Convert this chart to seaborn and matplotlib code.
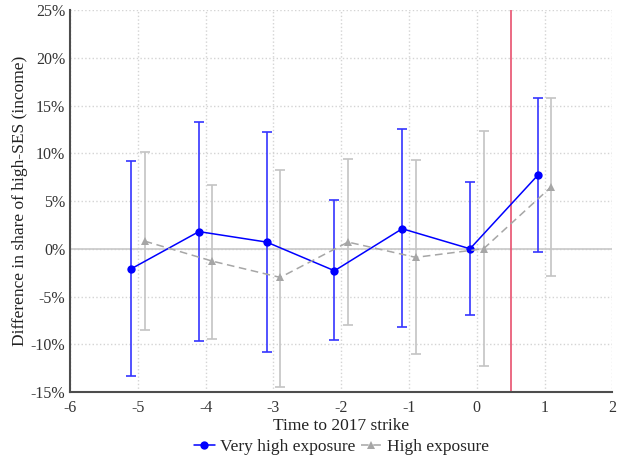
import numpy as np
import pandas as pd
import matplotlib
matplotlib.use('Agg')
import matplotlib.pyplot as plt
import seaborn as sns
from matplotlib.ticker import FuncFormatter

# event time and estimates (in %)
t = [-5, -4, -3, -2, -1, 0, 1]
very_high = [-2.1, 1.8, 0.7, -2.3, 2.1, 0.0, 7.7]
very_high_lo = [-13.3, -9.7, -10.8, -9.6, -8.2, -6.9, -0.3]
very_high_hi = [9.2, 13.3, 12.2, 5.1, 12.5, 7.0, 15.8]
high = [0.8, -1.3, -3.0, 0.7, -0.9, 0.0, 6.5]
high_lo = [-8.5, -9.5, -14.5, -8.0, -11.0, -12.3, -2.8]
high_hi = [10.1, 6.7, 8.3, 9.4, 9.3, 12.3, 15.8]

sns.set_style('white')
plt.rcParams['font.family'] = ['Liberation Serif', 'DejaVu Serif']

fig, ax = plt.subplots(figsize=(6.21, 4.59), dpi=100)

df = pd.DataFrame({
    'x': [v - 0.1 for v in t] + [v + 0.1 for v in t],
    'y': very_high + high,
    'lo': very_high_lo + high_lo,
    'hi': very_high_hi + high_hi,
    'group': ['Very high exposure'] * len(t) + ['High exposure'] * len(t),
})

colors = {'Very high exposure': '#0000ff', 'High exposure': '#a6a6a6'}
bar_colors = {'Very high exposure': '#3535ff', 'High exposure': '#c4c4c4'}

ax.axhline(0, color='#c8c8c8', lw=1.2, zorder=1)
ax.axvline(0.5, color='#e8506e', lw=1.2, zorder=1)

for g, sub in df.groupby('group', sort=False):
    ax.errorbar(sub['x'], sub['y'], yerr=[sub['y'] - sub['lo'], sub['hi'] - sub['y']],
                fmt='none', ecolor=bar_colors[g], elinewidth=1.2, capsize=3.3, capthick=1.2, zorder=2)

sns.lineplot(data=df, x='x', y='y', hue='group', style='group',
             palette=colors, markers={'Very high exposure': 'o', 'High exposure': '^'},
             dashes={'Very high exposure': '', 'High exposure': (5, 3)},
             markersize=6, markeredgewidth=0, lw=1.1, ax=ax, zorder=3, sort=False)

ax.set_xlim(-6, 2)
ax.set_ylim(-15, 25)
ax.set_xticks(range(-6, 3))
ax.set_yticks(range(-15, 26, 5))
ax.xaxis.set_major_formatter(FuncFormatter(lambda v, p: f'{int(v)}'))
ax.yaxis.set_major_formatter(FuncFormatter(lambda v, p: f'{int(v)}%'))
ax.grid(True, color='#d4d4d4', ls=':', lw=1.0)
ax.set_axisbelow(True)
for s in ['top', 'right']:
    ax.spines[s].set_visible(False)
for s in ['left', 'bottom']:
    ax.spines[s].set_color('#4d4d4d')
    ax.spines[s].set_linewidth(1.5)
ax.tick_params(direction='in', length=4, width=1, colors='#4d4d4d', labelsize=11.5, labelcolor='#333333')
ax.tick_params(axis='x', pad=6)

ax.set_xlabel('Time to 2017 strike', fontsize=12.5, color='#222222', labelpad=1)
ax.set_ylabel('Difference in share of high-SES (income)', fontsize=12.5, color='#222222', labelpad=2)

h, l = ax.get_legend_handles_labels()
ax.legend(h, l, loc='upper center', bbox_to_anchor=(0.5, -0.105), ncol=2, frameon=False,
          fontsize=12.5, handlelength=1.2, handletextpad=0.3, columnspacing=0.3, borderaxespad=0)

fig.subplots_adjust(left=0.113, right=0.986, top=0.978, bottom=0.146)
fig.savefig('out.png', dpi=100)
